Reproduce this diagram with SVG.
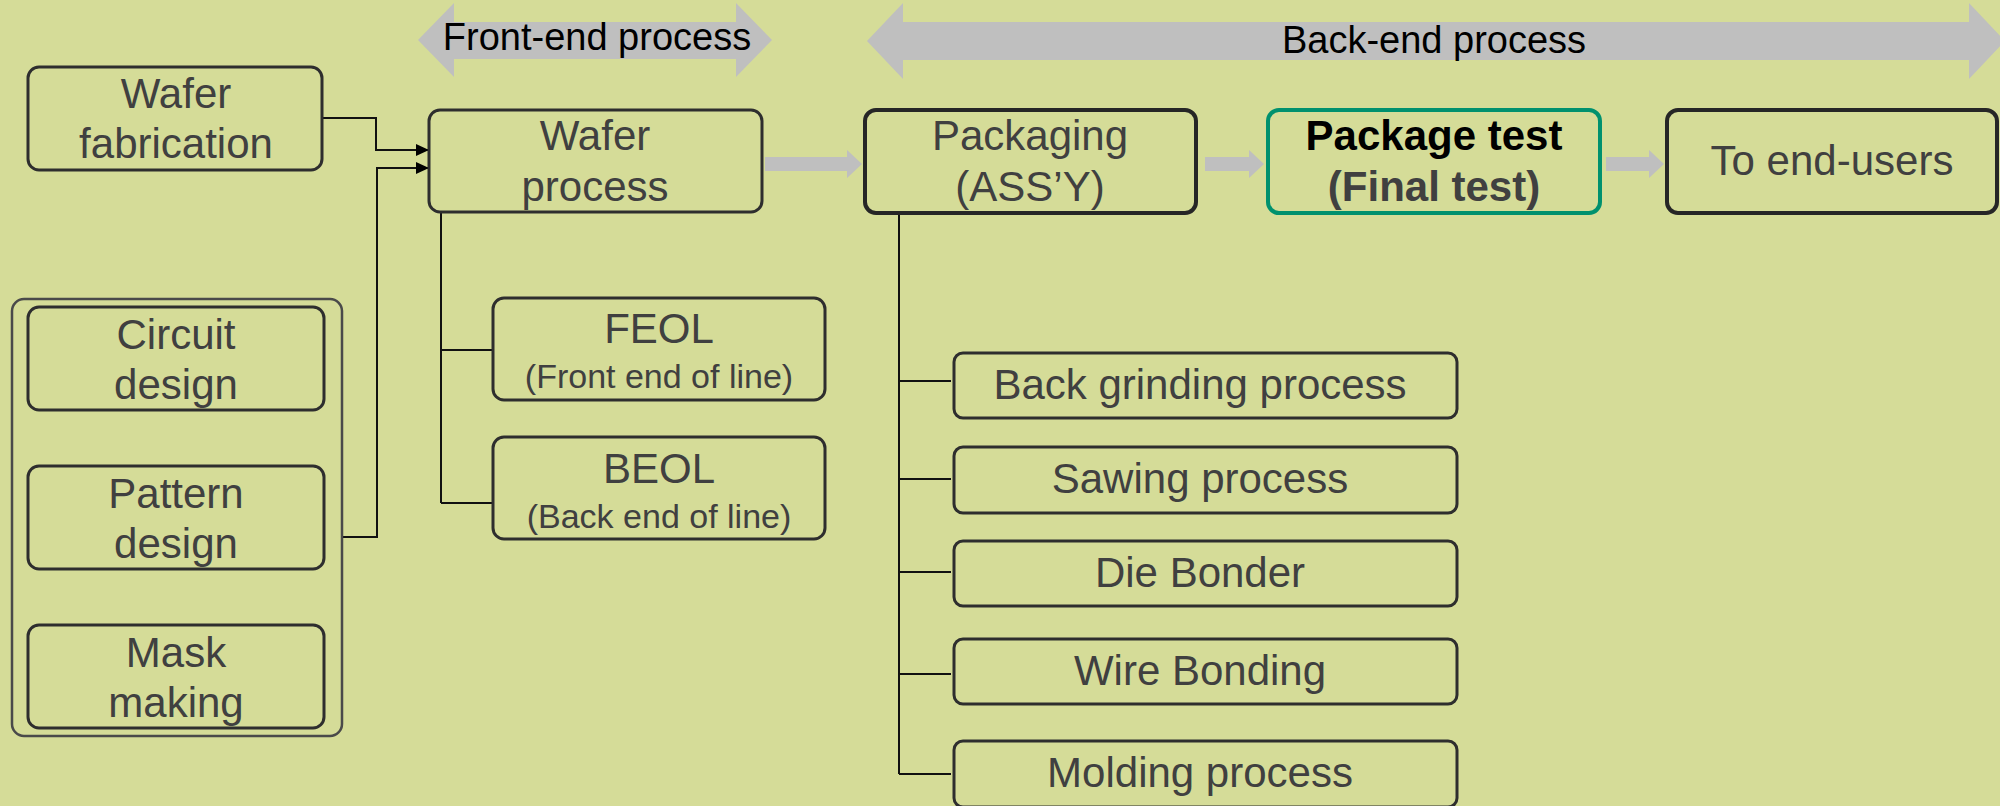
<svg xmlns="http://www.w3.org/2000/svg" width="2000" height="806" viewBox="0 0 2000 806">
<defs>
<style>
.bx{fill:none;stroke:#2e2e2e;stroke-width:3}
.bx4{fill:none;stroke:#262626;stroke-width:4}
.grn{fill:none;stroke:#00916e;stroke-width:4}
.ctr{fill:none;stroke:#4a4a4a;stroke-width:2.5}
.t{font-family:"Liberation Sans",Arial,sans-serif;font-size:42px;fill:#404040;text-anchor:middle}
.s{font-size:34px}
.b{font-weight:bold}
.lbl{font-family:"Liberation Sans",Arial,sans-serif;font-size:38px;fill:#000;text-anchor:middle}
.ln{fill:none;stroke:#111;stroke-width:2}
.ga{fill:#bfbfbf}
</style>
<marker id="ah" markerUnits="userSpaceOnUse" markerWidth="14" markerHeight="13" refX="13" refY="6" orient="auto">
<path d="M0,0 L13,6 L0,12 z" fill="#000"/>
</marker>
</defs>
<rect width="2000" height="806" fill="#d5dc98"/>

<g id="phase-arrows">
<polygon class="ga" points="418,40 454,3 454,22 736,22 736,3 772,40 736,77 736,59 454,59 454,77"/>
<text class="lbl" x="597" y="50">Front-end process</text>
<polygon class="ga" points="867,41 903,3 903,22 1969,22 1969,3 2005,41 1969,79 1969,60 903,60 903,79"/>
<text class="lbl" x="1434" y="53">Back-end process</text>
</g>

<g id="connectors">
<path class="ln" d="M322,118 H376 V150 H429" marker-end="url(#ah)"/>
<path class="ln" d="M342,537 H377 V168 H429" marker-end="url(#ah)"/>
<path class="ln" d="M441,212 V503 M441,350 H492 M441,503 H492"/>
<path class="ln" d="M899,213 V774 M899,381 H951 M899,479 H951 M899,572 H951 M899,674 H951 M899,774 H951"/>
<polygon class="ga" points="765,157 847,157 847,150 862,164 847,178 847,171 765,171"/>
<polygon class="ga" points="1205,157 1249,157 1249,150 1264,164 1249,178 1249,171 1205,171"/>
<polygon class="ga" points="1606,157 1649,157 1649,150 1664,164 1649,178 1649,171 1606,171"/>
</g>

<g id="wafer-fabrication">
<rect class="bx" x="28" y="67" width="294" height="103" rx="11"/>
<text class="t" x="176" y="108">Wafer</text>
<text class="t" x="176" y="158">fabrication</text>
</g>

<g id="design-group">
<rect class="ctr" x="12" y="299" width="330" height="437" rx="12"/>
</g>
<g id="circuit-design">
<rect class="bx" x="28" y="307" width="296" height="103" rx="11"/>
<text class="t" x="176" y="349">Circuit</text>
<text class="t" x="176" y="399">design</text>
</g>
<g id="pattern-design">
<rect class="bx" x="28" y="466" width="296" height="103" rx="11"/>
<text class="t" x="176" y="508">Pattern</text>
<text class="t" x="176" y="558">design</text>
</g>
<g id="mask-making">
<rect class="bx" x="28" y="625" width="296" height="103" rx="11"/>
<text class="t" x="176" y="667">Mask</text>
<text class="t" x="176" y="717">making</text>
</g>

<g id="wafer-process">
<rect class="bx" x="429" y="110" width="333" height="102" rx="11"/>
<text class="t" x="595" y="150">Wafer</text>
<text class="t" x="595" y="201">process</text>
</g>

<g id="feol">
<rect class="bx" x="493" y="298" width="332" height="102" rx="11"/>
<text class="t" x="659" y="343">FEOL</text>
<text class="t s" x="659" y="388">(Front end of line)</text>
</g>
<g id="beol">
<rect class="bx" x="493" y="437" width="332" height="102" rx="11"/>
<text class="t" x="659" y="483">BEOL</text>
<text class="t s" x="659" y="528">(Back end of line)</text>
</g>

<g id="packaging">
<rect class="bx4" x="865" y="110" width="331" height="103" rx="11"/>
<text class="t" x="1030" y="150">Packaging</text>
<text class="t" x="1030" y="201">(ASS’Y)</text>
</g>
<g id="package-test">
<rect class="grn" x="1268" y="110" width="332" height="103" rx="11"/>
<text class="t b" x="1434" y="150" style="fill:#000">Package test</text>
<text class="t b" x="1434" y="201">(Final test)</text>
</g>
<g id="to-end-users">
<rect class="bx4" x="1667" y="110" width="330" height="103" rx="11"/>
<text class="t" x="1832" y="175">To end-users</text>
</g>

<g id="back-grinding">
<rect class="bx" x="954" y="353" width="503" height="65" rx="9"/>
<text class="t" x="1200" y="399">Back grinding process</text>
</g>
<g id="sawing">
<rect class="bx" x="954" y="447" width="503" height="66" rx="9"/>
<text class="t" x="1200" y="493">Sawing process</text>
</g>
<g id="die-bonder">
<rect class="bx" x="954" y="541" width="503" height="65" rx="9"/>
<text class="t" x="1200" y="587">Die Bonder</text>
</g>
<g id="wire-bonding">
<rect class="bx" x="954" y="639" width="503" height="65" rx="9"/>
<text class="t" x="1200" y="685">Wire Bonding</text>
</g>
<g id="molding">
<rect class="bx" x="954" y="741" width="503" height="66" rx="9"/>
<text class="t" x="1200" y="787">Molding process</text>
</g>
</svg>
